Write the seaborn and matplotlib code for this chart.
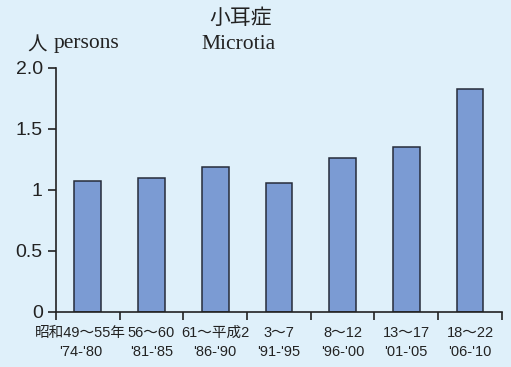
import matplotlib
matplotlib.use("Agg")
import matplotlib.pyplot as plt
import matplotlib.transforms as mtransforms
import seaborn as sns
import pandas as pd
import numpy as np

categories = ["昭和49～55年\n'74-'80", "56～60\n'81-'85", "61～平成2\n'86-'90", "3～7\n'91-'95",
              "8～12\n'96-'00", "13～17\n'01-'05", "18～22\n'06-'10"]
values = [1.07, 1.10, 1.19, 1.06, 1.26, 1.35, 1.83]
yticks = [0, 0.5, 1, 1.5, 2.0]
ytick_labels = ["0", "0.5", "1", "1.5", "2.0"]

sns.set_style("ticks")
plt.rcParams['font.family'] = ['Noto Sans CJK JP', 'DejaVu Sans']

bg = "#dff0fa"
fig = plt.figure(figsize=(5.11, 3.67), dpi=100, facecolor=bg)
ax = fig.add_axes([0.1096, 0.150, 0.8724, 0.665])
ax.set_facecolor(bg)

df = pd.DataFrame({"cat": categories, "val": values})
sns.barplot(data=df, x="cat", y="val", ax=ax, color="#7b9bd3", saturation=1,
            width=0.42, edgecolor="#262c3a", linewidth=1.1)

ax.set_xlim(-0.5, len(categories) - 0.5)
ax.set_ylim(0, 2.0)
ax.set_yticks(yticks)
ax.set_yticklabels(ytick_labels, fontsize=14, color="#222222", family=['Liberation Sans'])
ax.tick_params(axis="y", length=6, width=1.2, direction="out", pad=3.5, colors="#222222")
ax.set_xticks(range(len(categories)))
ax.set_xticklabels(categories, fontsize=10.5, color="#222222", linespacing=1.5,
                   family=['Liberation Sans', 'Noto Sans CJK JP'])
ax.tick_params(axis="x", which="major", length=0, pad=10)
ax.set_xticks(np.arange(-0.5, len(categories), 1.0), minor=True)
ax.tick_params(axis="x", which="minor", length=6, width=1.2, direction="out", colors="#222222")
first = ax.get_xticklabels()[0]
first.set_transform(first.get_transform() + mtransforms.ScaledTranslation(-0.07, 0, fig.dpi_scale_trans))
for s in ["top", "right"]:
    ax.spines[s].set_visible(False)
for s in ["left", "bottom"]:
    ax.spines[s].set_linewidth(1.2)
    ax.spines[s].set_color("#222222")
ax.set_xlabel("")
ax.set_ylabel("")

fig.text(0.47, 0.95, "小耳症", ha="center", va="center", fontsize=15, color="#222222")
fig.text(0.466, 0.878, "Microtia", ha="center", va="center", fontsize=15.5,
         family="Liberation Serif", color="#222222")
fig.text(0.053, 0.878, "人", ha="left", va="center", fontsize=14, color="#222222")
fig.text(0.104, 0.882, "persons", ha="left", va="center", fontsize=15.5,
         family="Liberation Serif", color="#222222")

fig.savefig("out.png", dpi=100, facecolor=bg)
